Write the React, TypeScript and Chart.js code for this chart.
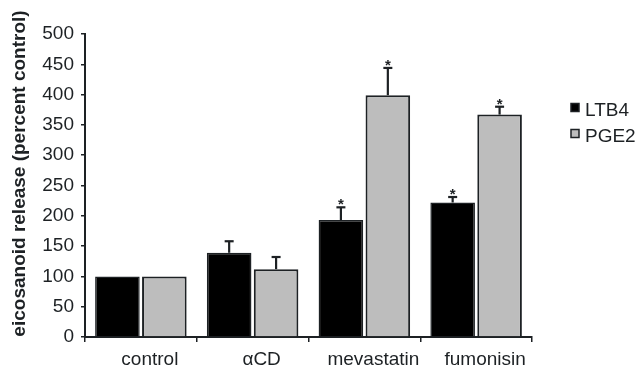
import React, { useEffect, useRef } from "react";
import { Chart, registerables } from "chart.js";

Chart.register(...registerables);

const categories = ["control", "αCD", "mevastatin", "fumonisin"];
const seriesLabels = ["LTB4", "PGE2"];
const ltb4Values = [100, 139, 193, 222];
const ltb4Errors = [0, 19, 21, 9];
const ltb4Significant = [false, false, true, true];
const pge2Values = [100, 112, 399, 367];
const pge2Errors = [0, 20, 45, 13];
const pge2Significant = [false, false, true, true];
const yMin = 0;
const yMax = 500;
const yStep = 50;
const yAxisTitle = "eicosanoid release (percent control)";

const INK = "#1d2124";
const GRAY = "#bdbdbd";
const FONT = "'Liberation Sans', Arial, Helvetica, sans-serif";

const errorsBySeries = [ltb4Errors, pge2Errors];
const sigBySeries = [ltb4Significant, pge2Significant];
const fills = ["#000000", GRAY];

const decorPlugin = {
  id: "decor",
  afterDatasetsDraw(chart: any) {
    const ctx = chart.ctx;
    const yScale = chart.scales.y;
    chart.data.datasets.forEach((ds: any, i: number) => {
      const meta = chart.getDatasetMeta(i);
      meta.data.forEach((el: any, j: number) => {
        const v = ds.data[j];
        const err = errorsBySeries[i][j];
        let topY = el.y;
        if (err > 0) {
          const yErr = yScale.getPixelForValue(v + err);
          ctx.save();
          ctx.strokeStyle = INK;
          ctx.lineWidth = 2.2;
          ctx.beginPath();
          ctx.moveTo(el.x, el.y);
          ctx.lineTo(el.x, yErr);
          ctx.stroke();
          ctx.beginPath();
          ctx.moveTo(el.x - 4.5, yErr);
          ctx.lineTo(el.x + 4.5, yErr);
          ctx.stroke();
          ctx.restore();
          topY = yErr;
        }
        if (sigBySeries[i][j]) {
          ctx.save();
          ctx.fillStyle = INK;
          ctx.font = `bold 15px ${FONT}`;
          ctx.textAlign = "center";
          ctx.textBaseline = "alphabetic";
          ctx.fillText("*", el.x, topY + 2);
          ctx.restore();
        }
      });
    });
  },
  afterDraw(chart: any) {
    const ctx = chart.ctx;
    const area = chart.chartArea;
    // y-axis title
    ctx.save();
    ctx.translate(20, (area.top + area.bottom) / 2 - 12);
    ctx.rotate(-Math.PI / 2);
    ctx.font = `bold 19px ${FONT}`;
    ctx.fillStyle = INK;
    ctx.textAlign = "center";
    ctx.textBaseline = "middle";
    ctx.fillText(yAxisTitle, 0, 0);
    ctx.restore();
    // legend
    seriesLabels.forEach((label, i) => {
      const baseY = 116 + i * 26;
      const bx = area.right + 39;
      ctx.save();
      ctx.fillStyle = fills[i];
      ctx.strokeStyle = INK;
      ctx.lineWidth = 1.5;
      ctx.fillRect(bx, baseY - 12.5, 8, 8);
      ctx.strokeRect(bx, baseY - 12.5, 8, 8);
      ctx.fillStyle = INK;
      ctx.font = `19px ${FONT}`;
      ctx.textAlign = "left";
      ctx.textBaseline = "alphabetic";
      ctx.fillText(label, bx + 14, baseY);
      ctx.restore();
    });
  },
};

export default function App() {
  const canvasRef = useRef<HTMLCanvasElement | null>(null);

  useEffect(() => {
    if (!canvasRef.current) return;
    const chart = new Chart(canvasRef.current, {
      type: "bar",
      data: {
        labels: categories,
        datasets: [
          {
            label: seriesLabels[0],
            data: ltb4Values,
            backgroundColor: "#000000",
            borderColor: INK,
            borderWidth: 1.5,
            categoryPercentage: 0.84,
            barPercentage: 0.95,
          },
          {
            label: seriesLabels[1],
            data: pge2Values,
            backgroundColor: GRAY,
            borderColor: INK,
            borderWidth: 2,
            categoryPercentage: 0.84,
            barPercentage: 0.95,
          },
        ],
      },
      options: {
        responsive: false,
        animation: false,
        devicePixelRatio: 1,
        layout: { padding: { top: 34, right: 110, left: 0, bottom: 0 } },
        plugins: {
          legend: { display: false },
          tooltip: { enabled: false },
        },
        scales: {
          x: {
            afterFit: (s: any) => {
              s.height = 36;
            },
            grid: {
              display: true,
              offset: true,
              drawOnChartArea: false,
              drawTicks: true,
              tickLength: 5,
              color: INK,
              lineWidth: 1.5,
            },
            border: { display: true, color: INK, width: 2 },
            ticks: {
              color: INK,
              font: { family: FONT, size: 19 },
              padding: 6,
              labelOffset: 9,
              maxRotation: 0,
            },
          },
          y: {
            min: yMin,
            max: yMax,
            afterFit: (s: any) => {
              s.width = 85;
            },
            grid: {
              display: true,
              drawOnChartArea: false,
              drawTicks: true,
              tickLength: 4,
              color: INK,
              lineWidth: 1.5,
            },
            border: { display: true, color: INK, width: 2 },
            ticks: {
              stepSize: yStep,
              color: INK,
              font: { family: FONT, size: 19 },
              padding: 7,
            },
          },
        },
      },
      plugins: [decorPlugin],
    });
    return () => chart.destroy();
  }, []);

  return (
    <div style={{ position: "absolute", left: 0, top: 0, width: 642, height: 373, background: "#ffffff" }}>
      <canvas ref={canvasRef} width={642} height={373} style={{ display: "block" }} />
    </div>
  );
}
